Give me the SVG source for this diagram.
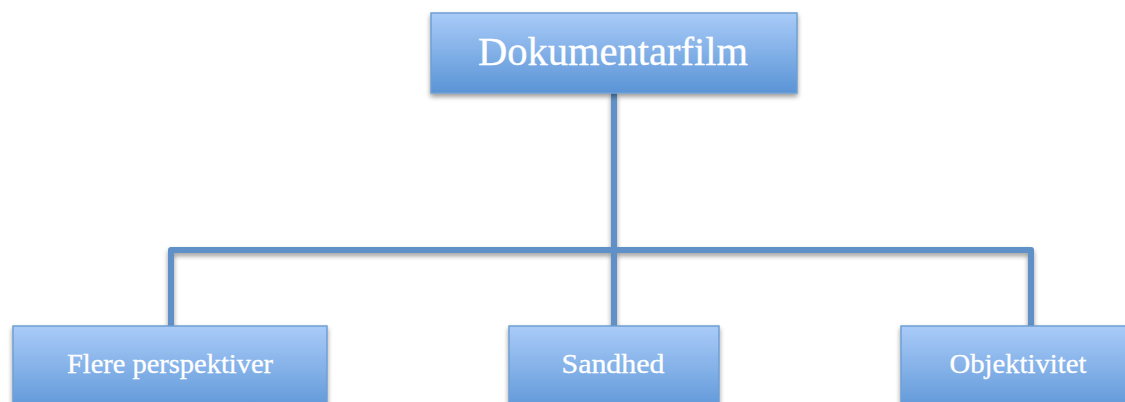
<svg xmlns="http://www.w3.org/2000/svg" width="1125" height="402" viewBox="0 0 1125 402">
<defs>
<linearGradient id="g" x1="0" y1="0" x2="0" y2="1">
<stop offset="0" stop-color="#a9cbf8"/>
<stop offset="1" stop-color="#5a94d6"/>
</linearGradient>
<filter id="sh" x="-10%" y="-10%" width="120%" height="140%">
<feGaussianBlur in="SourceAlpha" stdDeviation="2.5"/>
<feOffset dx="0" dy="3" result="b"/>
<feComponentTransfer><feFuncA type="linear" slope="0.4"/></feComponentTransfer>
<feMerge><feMergeNode/><feMergeNode in="SourceGraphic"/></feMerge>
</filter>
</defs>
<style>
.box{fill:url(#g);stroke:#6f9fd2;stroke-width:1.5;filter:url(#sh)}
.lbl{font-family:"Liberation Serif",serif;fill:#ffffff;text-anchor:middle;stroke:#ffffff;stroke-width:0.3}
.con{fill:none;stroke:#5f91c8;stroke-width:6;stroke-linejoin:round}
</style>
<rect width="1125" height="402" fill="#ffffff"/>
<g id="connectors" filter="url(#sh)">
<path class="con" d="M614 93 V327"/>
<path class="con" d="M171 327 V250 H1031 V327"/>
</g>
<g id="n-dokumentarfilm">
<rect class="box" x="431" y="13" width="366" height="80"/>
<text class="lbl" x="613" y="65" font-size="40" textLength="270" lengthAdjust="spacingAndGlyphs">Dokumentarfilm</text>
</g>
<g id="n-flere">
<rect class="box" x="13" y="326" width="314" height="90"/>
<text class="lbl" x="170" y="373" font-size="27" textLength="206" lengthAdjust="spacingAndGlyphs">Flere perspektiver</text>
</g>
<g id="n-sandhed">
<rect class="box" x="509" y="326" width="210" height="90"/>
<text class="lbl" x="613" y="373" font-size="27" textLength="103" lengthAdjust="spacingAndGlyphs">Sandhed</text>
</g>
<g id="n-objektivitet">
<rect class="box" x="901" y="326" width="234" height="90"/>
<text class="lbl" x="1018" y="373" font-size="27" textLength="137" lengthAdjust="spacingAndGlyphs">Objektivitet</text>
</g>
</svg>
